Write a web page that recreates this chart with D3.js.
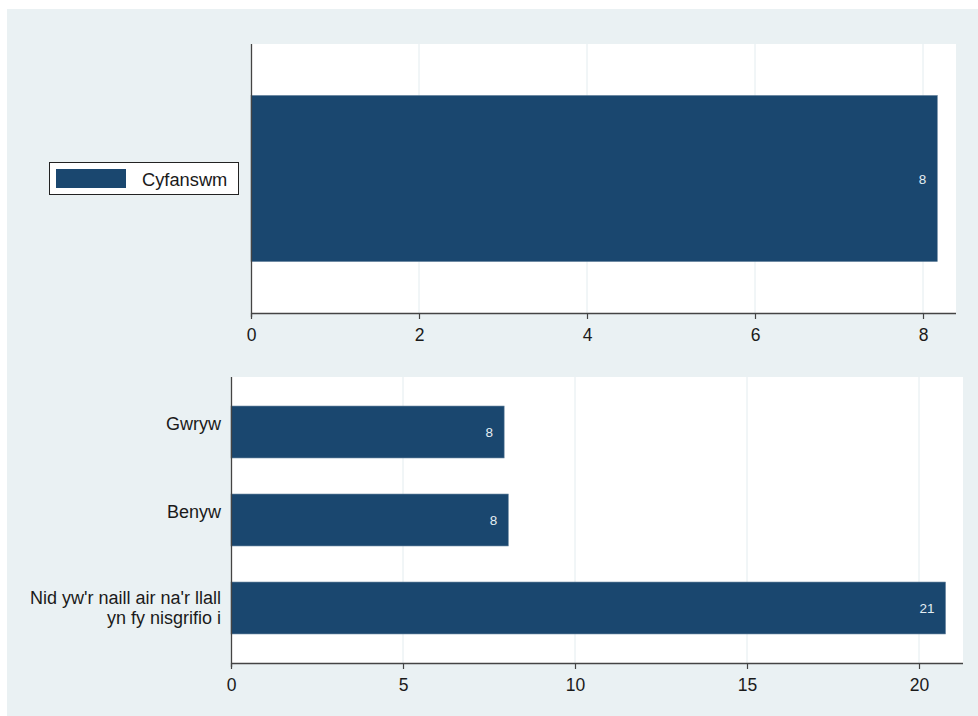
<!DOCTYPE html>
<html>
<head>
<meta charset="utf-8">
<script src="https://cdn.jsdelivr.net/npm/d3@7"></script>
<style>
  html, body { margin: 0; padding: 0; background: #ffffff; }
  svg { display: block; font-family: "Liberation Sans", Arial, sans-serif; }
</style>
</head>
<body>
<svg id="chart" width="978" height="716"></svg>
<script>
// ---- data ----
const totalLabel = "Cyfanswm";
const totalValue = [8.17];
const totalText = ["8"];
const topTicks = [0, 2, 4, 6, 8];

const categories = ["Gwryw", "Benyw", "Nid yw'r naill air na'r llall|yn fy nisgrifio i"];
const values = [7.94, 8.06, 20.77];
const valueText = ["8", "8", "21"];
const bottomTicks = [0, 5, 10, 15, 20];

// ---- styling ----
const BG = "#eaf1f3";
const BAR = "#1a476f";
const GRID = "#e3ecef";
const AXIS = "#444444";
const TEXT = "#1a1a1a";

const svg = d3.select("#chart");
svg.append("rect").attr("x", 7).attr("y", 9).attr("width", 971).attr("height", 707).attr("fill", BG);

function panel(opts) {
  const { x0, x1, y0, y1, domainMax, ticks, cats, vals, texts, padInner, padOuter } = opts;
  const g = svg.append("g");
  g.append("rect").attr("x", x0).attr("y", y0).attr("width", x1 - x0).attr("height", y1 - y0).attr("fill", "#ffffff");
  const x = d3.scaleLinear().domain([0, domainMax]).range([x0, x0 + domainMax * opts.unit]);
  const y = d3.scaleBand().domain(cats).range([y0, y1]).paddingInner(padInner).paddingOuter(padOuter);

  // gridlines
  g.selectAll(".grid").data(ticks.filter(t => t !== 0)).enter().append("line")
    .attr("x1", d => x(d)).attr("x2", d => x(d)).attr("y1", y0).attr("y2", y1)
    .attr("stroke", GRID).attr("stroke-width", 1);

  // bars
  g.selectAll(".bar").data(vals).enter().append("rect")
    .attr("x", x(0)).attr("y", (d, i) => y(cats[i]))
    .attr("width", d => x(d) - x(0)).attr("height", y.bandwidth())
    .attr("fill", BAR).attr("stroke", "#5f7f99").attr("stroke-width", 0.6);

  // value labels
  g.selectAll(".vl").data(vals).enter().append("text")
    .attr("x", d => x(d) - 11).attr("y", (d, i) => y(cats[i]) + y.bandwidth() / 2 + 5)
    .attr("text-anchor", "end").attr("font-size", 13.5).attr("fill", "#e4eef3")
    .text((d, i) => texts[i]);

  // bottom axis
  const ax = d3.axisBottom(x).tickValues(ticks).tickSize(6).tickPadding(10).tickFormat(d3.format("d"));
  const axg = g.append("g").attr("transform", `translate(0,${y1})`).call(ax);
  axg.select(".domain").attr("d", `M${x0},0.5H${x1}`).attr("stroke", AXIS).attr("stroke-width", 1.3);
  axg.selectAll(".tick line").attr("stroke", AXIS).attr("stroke-width", 1.2);
  axg.selectAll(".tick text").attr("font-size", 17.5).attr("fill", TEXT)
    .attr("font-family", "'Liberation Sans', Arial, sans-serif");

  // left axis line
  g.append("line").attr("x1", x0 + 0.5).attr("x2", x0 + 0.5).attr("y1", y0).attr("y2", y1 + 4)
    .attr("stroke", AXIS).attr("stroke-width", 1.3);
  return { x, y, g };
}

// top panel
panel({ x0: 251, x1: 956, y0: 44, y1: 313, unit: 84, domainMax: 8.4, ticks: topTicks,
  cats: [totalLabel], vals: totalValue, texts: totalText, padInner: 0, padOuter: 0.31 });

// legend
const leg = svg.append("g");
leg.append("rect").attr("x", 49.5).attr("y", 162.5).attr("width", 189).attr("height", 32)
  .attr("fill", "#ffffff").attr("stroke", "#222").attr("stroke-width", 1);
leg.append("rect").attr("x", 56).attr("y", 169).attr("width", 70).attr("height", 19).attr("fill", BAR);
leg.append("text").attr("x", 142).attr("y", 186).attr("font-size", 18.3).attr("fill", TEXT).text(totalLabel);

// bottom panel
const bp = panel({ x0: 231, x1: 963, y0: 377, y1: 663, unit: 34.4, domainMax: 21.2, ticks: bottomTicks,
  cats: categories, vals: values, texts: valueText, padInner: 0.41, padOuter: 0.33 });

// category labels
categories.forEach(c => {
  const lines = c.split("|");
  const cy = bp.y(c) + bp.y.bandwidth() / 2;
  const t = svg.append("text").attr("text-anchor", "end").attr("font-size", 18).attr("fill", TEXT);
  if (lines.length === 1) {
    t.append("tspan").attr("x", 221).attr("y", cy - 2).text(lines[0]);
  } else {
    lines.forEach((l, i) => t.append("tspan").attr("x", 221).attr("y", cy - 4.5 + i * 20).text(l));
  }
});
</script>
</body>
</html>
